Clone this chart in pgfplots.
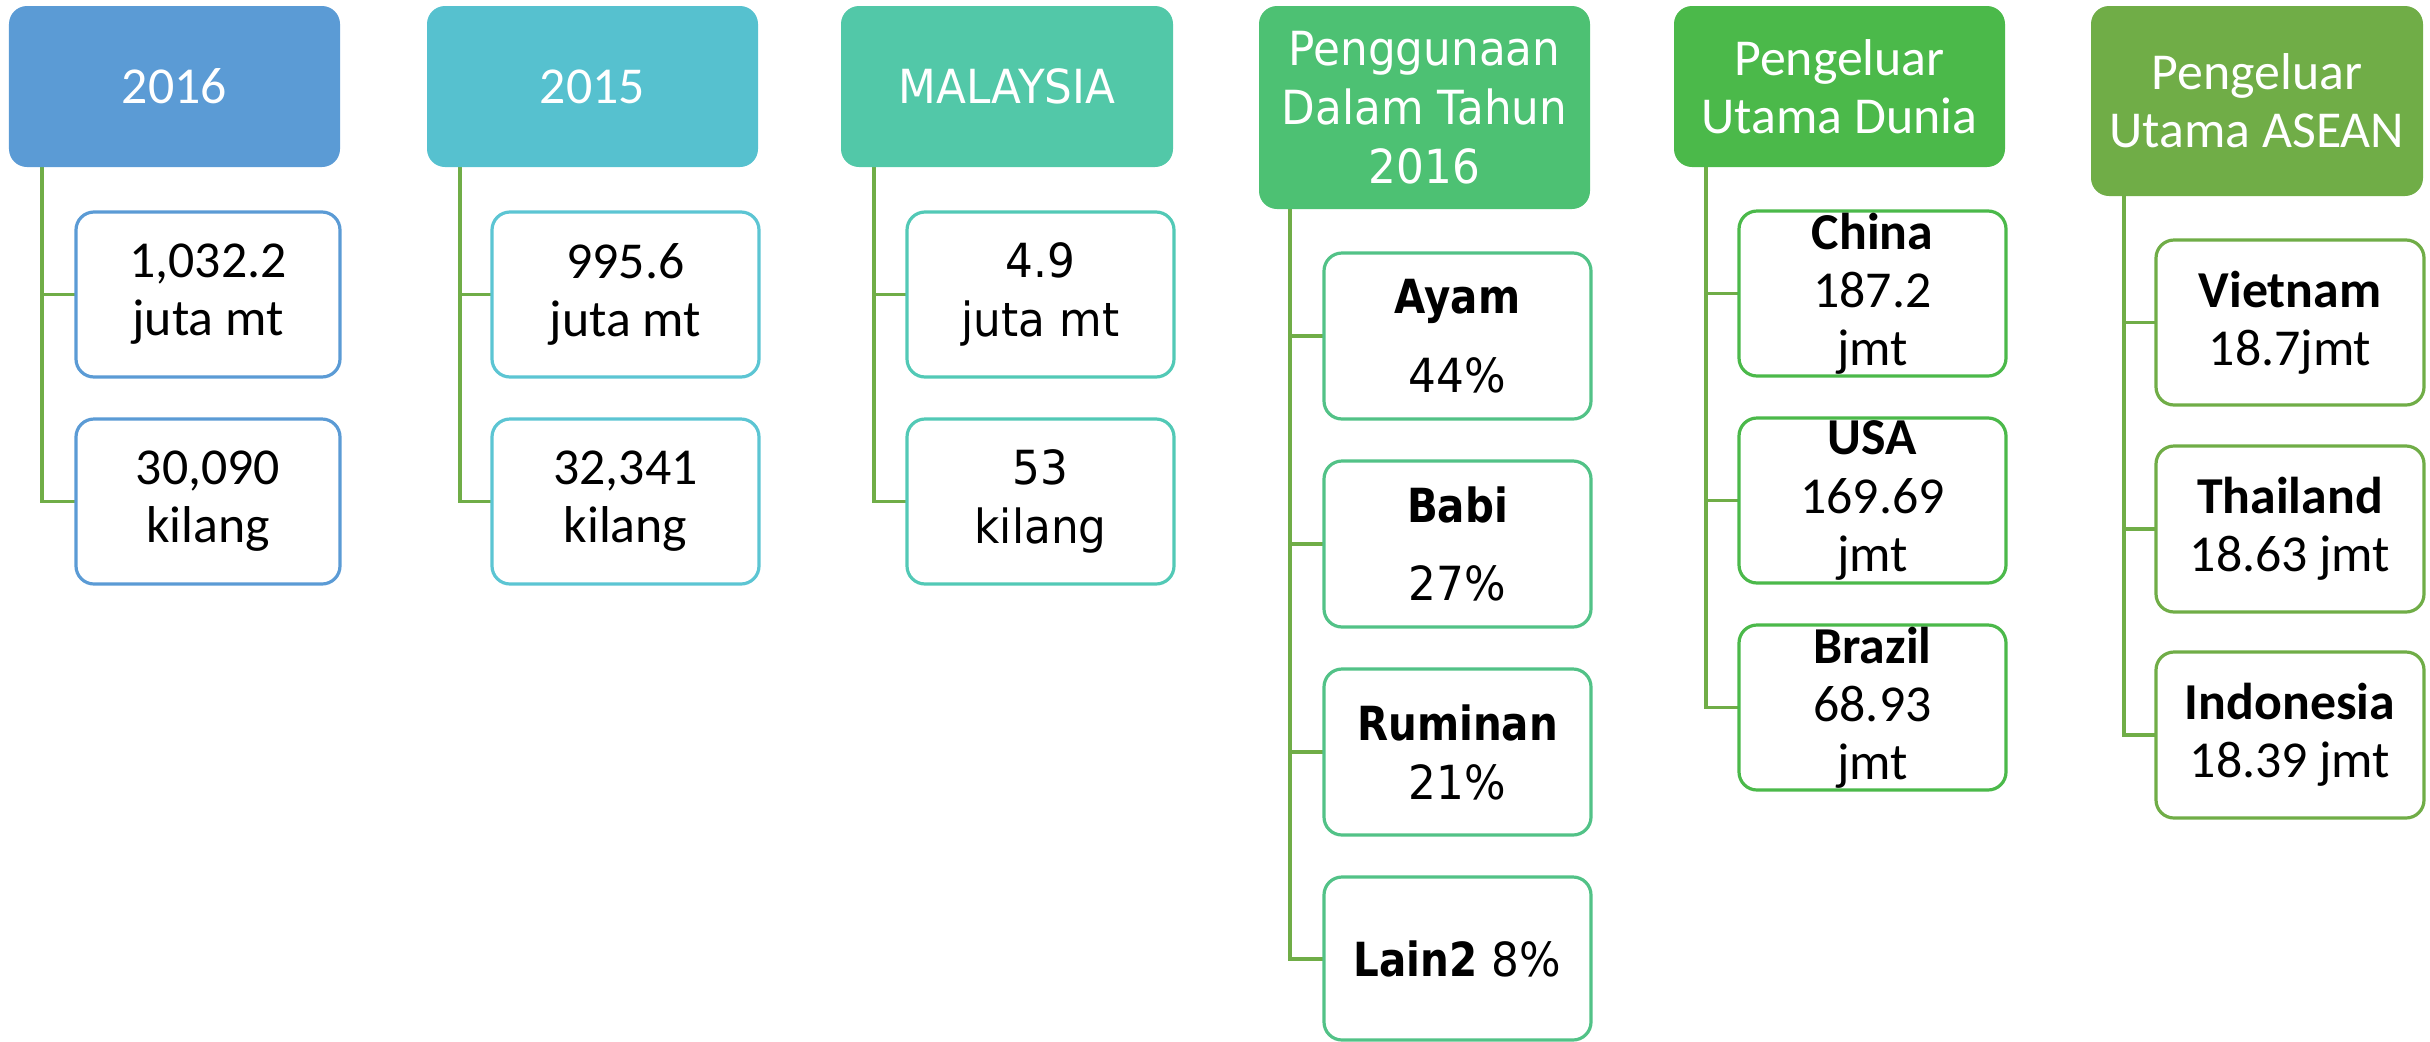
\documentclass[border=0pt]{standalone}
\usepackage{pgfplots}
\pgfplotsset{compat=1.18}
\usepackage{fontspec}
\setmainfont{Carlito}
\newfontfamily\tah[FakeStretch=0.93, BoldFeatures={FakeStretch=0.86}]{DejaVu Sans}

\definecolor{c1}{HTML}{5B9BD5}
\definecolor{c2}{HTML}{56C1CF}
\definecolor{c3}{HTML}{52C8A8}
\definecolor{c4}{HTML}{4DC173}
\definecolor{c5}{HTML}{4BB94A}
\definecolor{c6}{HTML}{70AD47}
\definecolor{k2}{HTML}{5CC5D3}
\definecolor{k3}{HTML}{52C9B6}
\definecolor{k4}{HTML}{52C287}
\definecolor{conn}{HTML}{70AD47}
\tikzset{cn/.style={conn, solid, line width=0.8bp, mark=none}}

% 1 px of the reference = 0.25bp
\newcommand{\calf}{\fontsize{13}{14.6}\selectfont}
\newcommand{\tahf}{\tah\fontsize{11.8}{14.8}\selectfont}

% parent box: x1,y1,x2,y2,colour,font,text
\newcommand{\headbox}[7]{%
  \fill[#5, rounded corners=4.5bp] (axis cs:#1,#2) rectangle (axis cs:#3,#4);
  \node[text=white, align=center, inner sep=0pt, font=#6]
    at (axis cs:{(#1+#3)/2},{(#2+#4)/2}) {#7};
}
% child box: x1,y1,x2,y2,colour,font,text
\newcommand{\kidbox}[7]{%
  \draw[#5, line width=0.8bp, fill=white, rounded corners=4.5bp]
    (axis cs:#1,#2) rectangle (axis cs:#3,#4);
  \node[text=black, align=center, inner sep=0pt, font=#6]
    at (axis cs:{(#1+#3)/2},{(#2+#4)/2}) {#7};
}

\begin{document}
\begin{tikzpicture}
\begin{axis}[
  scale only axis, width=607.5bp, height=260.25bp,
  xmin=0, xmax=2430, ymin=0, ymax=1041, y dir=reverse,
  hide axis, clip=false,
]
\path (axis cs:0,0) rectangle (axis cs:2430,1041);

% connectors
\addplot[cn] coordinates {(42,167) (42,501.5) (76,501.5)};
\addplot[cn] coordinates {(42,294.5) (76,294.5)};
\addplot[cn] coordinates {(460,167) (460,501.5) (492,501.5)};
\addplot[cn] coordinates {(460,294.5) (492,294.5)};
\addplot[cn] coordinates {(874,167) (874,501.5) (907,501.5)};
\addplot[cn] coordinates {(874,294.5) (907,294.5)};
\addplot[cn] coordinates {(1290,209) (1290,959) (1324,959)};
\addplot[cn] coordinates {(1290,336) (1324,336)};
\addplot[cn] coordinates {(1290,544) (1324,544)};
\addplot[cn] coordinates {(1290,752) (1324,752)};
\addplot[cn] coordinates {(1706,167) (1706,707.5) (1739,707.5)};
\addplot[cn] coordinates {(1706,293.5) (1739,293.5)};
\addplot[cn] coordinates {(1706,500.5) (1739,500.5)};
\addplot[cn] coordinates {(2124,196) (2124,735) (2156,735)};
\addplot[cn] coordinates {(2124,322.5) (2156,322.5)};
\addplot[cn] coordinates {(2124,529) (2156,529)};

% column 1
\headbox{9}{6}{340}{167}{c1}{\calf}{2016}
\kidbox{76}{212}{340}{377}{c1}{\calf}{1,032.2\\juta mt}
\kidbox{76}{419}{340}{584}{c1}{\calf}{30,090\\kilang}
% column 2
\headbox{427}{6}{758}{167}{c2}{\calf}{2015}
\kidbox{492}{212}{759}{377}{k2}{\calf}{995.6\\juta mt}
\kidbox{492}{419}{759}{584}{k2}{\calf}{32,341\\kilang}
% column 3
\headbox{841}{6}{1173}{167}{c3}{\tahf}{MALAYSIA}
\kidbox{907}{212}{1174}{377}{k3}{\tahf}{4.9\\juta mt}
\kidbox{907}{419}{1174}{584}{k3}{\tahf}{53\\kilang}
% column 4
\headbox{1259}{6}{1590}{209}{c4}{\tahf}{Penggunaan\\Dalam Tahun\\2016}
\kidbox{1324}{253}{1591}{419}{k4}{\tahf}{\textbf{Ayam}\\[5pt]44\%}
\kidbox{1324}{461}{1591}{627}{k4}{\tahf}{\textbf{Babi}\\[5pt]27\%}
\kidbox{1324}{669}{1591}{835}{k4}{\tahf}{\textbf{Ruminan}\\21\%}
\kidbox{1324}{877}{1591}{1040}{k4}{\tahf}{\textbf{Lain2} 8\%}
% column 5
\headbox{1674}{6}{2005}{167}{c5}{\calf}{Pengeluar\\Utama Dunia}
\kidbox{1739}{211}{2006}{376}{c5}{\calf}{\textbf{China}\\187.2\\jmt}
\kidbox{1739}{418}{2006}{583}{c5}{\calf}{\textbf{USA}\\169.69\\jmt}
\kidbox{1739}{625}{2006}{790}{c5}{\calf}{\textbf{Brazil}\\68.93\\jmt}
% column 6
\headbox{2091}{6}{2423}{196}{c6}{\calf}{Pengeluar\\Utama ASEAN}
\kidbox{2156}{240}{2424}{405}{c6}{\calf}{\textbf{Vietnam}\\18.7jmt}
\kidbox{2156}{446}{2424}{612}{c6}{\calf}{\textbf{Thailand}\\18.63 jmt}
\kidbox{2156}{652}{2424}{818}{c6}{\calf}{\textbf{Indonesia}\\18.39 jmt}
\end{axis}
\end{tikzpicture}
\end{document}
